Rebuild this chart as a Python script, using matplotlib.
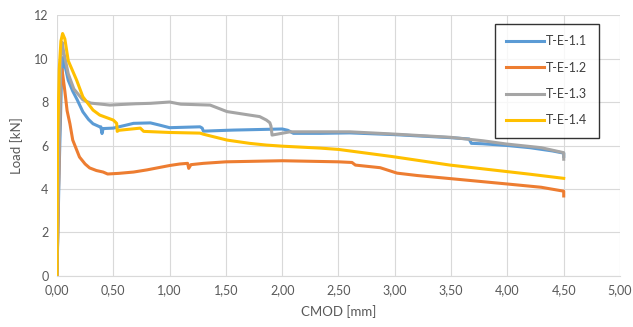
import matplotlib
matplotlib.use("Agg")
import matplotlib.pyplot as plt

plt.rcParams['font.family'] = ['Lato', 'DejaVu Sans']

labels = ["T-E-1.1", "T-E-1.2", "T-E-1.3", "T-E-1.4"]
colors = ["#5B9BD5", "#ED7D31", "#A5A5A5", "#FFC000"]

# T-E-1.1
x1 = [0.0, 0.02, 0.04, 0.055, 0.07, 0.1, 0.14, 0.18, 0.23, 0.28, 0.32, 0.38, 0.39, 0.40, 0.41, 0.5,
      0.6, 0.68, 0.83, 0.91, 1.0, 1.27, 1.29, 1.3, 1.51, 1.57, 2.0, 2.05, 2.1, 2.34, 2.6,
      3.0, 3.5, 3.66, 3.68, 3.78, 4.0, 4.2, 4.4, 4.5, 4.5]
y1 = [0.0, 5.0, 9.0, 10.05, 9.7, 9.0, 8.5, 8.1, 7.55, 7.2, 7.0, 6.86, 6.86, 6.55, 6.78, 6.8,
      6.92, 7.02, 7.04, 6.94, 6.82, 6.86, 6.8, 6.66, 6.7, 6.71, 6.76, 6.7, 6.56, 6.56, 6.58,
      6.5, 6.36, 6.3, 6.1, 6.08, 6.0, 5.9, 5.75, 5.65, 5.5]

# T-E-1.2
x2 = [0.0, 0.01, 0.03, 0.045, 0.07, 0.09, 0.115, 0.14, 0.2, 0.25, 0.29, 0.35, 0.41, 0.45, 0.55,
      0.68, 0.8, 0.89, 1.0, 1.09, 1.16, 1.17, 1.19, 1.3, 1.5, 2.0, 2.5, 2.62, 2.65, 2.87,
      3.02, 3.2, 3.53, 4.0, 4.3, 4.5, 4.5]
y2 = [0.0, 3.0, 8.5, 9.5, 8.5, 7.6, 7.0, 6.25, 5.47, 5.15, 4.97, 4.85, 4.78, 4.69, 4.72,
      4.78, 4.88, 4.97, 5.08, 5.15, 5.18, 4.95, 5.12, 5.18, 5.25, 5.3, 5.25, 5.22, 5.1, 4.98,
      4.73, 4.62, 4.46, 4.23, 4.08, 3.9, 3.68]

# T-E-1.3
x3 = [0.0, 0.02, 0.035, 0.045, 0.06, 0.1, 0.15, 0.23, 0.3, 0.47, 0.7, 0.83, 1.0, 1.1, 1.36,
      1.51, 1.71, 1.8, 1.86, 1.89, 1.9, 1.91, 2.07, 2.6, 2.98, 3.49, 3.78, 3.99, 4.3,
      4.5, 4.5]
y3 = [0.0, 6.0, 10.0, 10.75, 10.3, 9.3, 8.6, 8.1, 7.95, 7.86, 7.92, 7.94, 8.0, 7.9, 7.86,
      7.56, 7.4, 7.33, 7.17, 7.05, 6.9, 6.48, 6.63, 6.63, 6.53, 6.38, 6.22, 6.07, 5.9,
      5.67, 5.37]

# T-E-1.4
x4 = [0.0, 0.005, 0.02, 0.035, 0.05, 0.07, 0.1, 0.175, 0.23, 0.32, 0.38, 0.5, 0.53, 0.535, 0.55,
      0.74, 0.77, 1.0, 1.27, 1.3, 1.51, 1.71, 1.86, 2.0, 2.34, 2.5, 2.98, 3.49,
      3.93, 4.2, 4.5]
y4 = [0.0, 6.0, 9.5, 10.8, 11.15, 10.9, 9.9, 9.0, 8.24, 7.63, 7.4, 7.17, 7.02, 6.65, 6.7,
      6.8, 6.65, 6.6, 6.57, 6.52, 6.25, 6.1, 6.02, 5.97, 5.88, 5.82, 5.49, 5.1,
      4.84, 4.68, 4.49]

series = [(x1, y1), (x2, y2), (x3, y3), (x4, y4)]

fig = plt.figure(figsize=(6.33, 3.27), dpi=100)
ax = fig.add_axes([0.090, 0.156, 0.8895, 0.798])

for (xs, ys), lab, col in zip(series, labels, colors):
    ax.plot(xs, ys, color=col, lw=2.2, label=lab, solid_joinstyle='round')

ax.set_xlim(0, 5)
ax.set_ylim(0, 12)
ax.set_xticks([i * 0.5 for i in range(11)])
ax.set_xticklabels([f"{i*0.5:.2f}".replace(".", ",") for i in range(11)])
ax.set_yticks(range(0, 13, 2))
ax.grid(True, color="#D9D9D9", lw=0.8)
ax.set_axisbelow(True)
for s in ["top", "right", "left"]:
    ax.spines[s].set_visible(False)
ax.spines["bottom"].set_color("#D9D9D9")
ax.tick_params(length=0, colors="#595959", labelsize=9, pad=6)
ax.set_xlabel("CMOD [mm]", color="#595959", fontsize=9.5, labelpad=6)
ax.set_ylabel("Load [kN]", color="#595959", fontsize=9.5, labelpad=8)

leg = ax.legend(loc="upper left", bbox_to_anchor=(0.778, 0.9655), frameon=True,
                fancybox=False, edgecolor="black", fontsize=9, labelspacing=1.15,
                handlelength=3.0, handletextpad=0.2, borderpad=0.9, borderaxespad=0)
leg.get_frame().set_linewidth(1.0)
for t in leg.get_texts():
    t.set_color("#404040")

fig.savefig("out.png", dpi=100)
